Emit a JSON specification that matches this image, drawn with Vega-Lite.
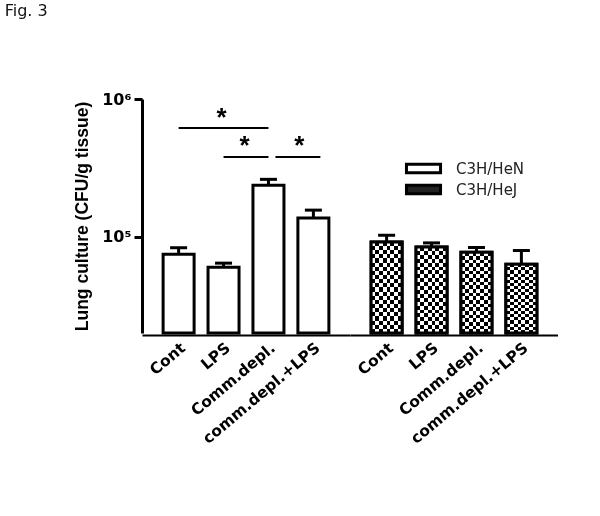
{
  "$schema": "https://vega.github.io/schema/vega-lite/v6.json",
  "padding": {"left": 4, "top": 3, "right": 0, "bottom": 0},
  "background": "white",
  "title": {"text": "Fig. 3", "anchor": "start", "frame": "bounds", "orient": "top", "offset": 72, "dx": -69, "font": "DejaVu Sans", "fontSize": 16, "fontWeight": "normal", "color": "#111"},
  "config": {"view": {"stroke": null}, "axis": {"grid": false}},
  "data": {"values": [
    {"kind": "bar", "strain": "C3H/HeN", "treatment": "Cont", "mean": 74700, "upper": 83200},
    {"kind": "bar", "strain": "C3H/HeN", "treatment": "LPS", "mean": 60100, "upper": 64300},
    {"kind": "bar", "strain": "C3H/HeN", "treatment": "Comm.depl.", "mean": 236000, "upper": 261000},
    {"kind": "bar", "strain": "C3H/HeN", "treatment": "comm.depl.+LPS", "mean": 137000, "upper": 156000},
    {"kind": "bar", "strain": "C3H/HeJ", "treatment": "Cont", "mean": 91700, "upper": 102500},
    {"kind": "bar", "strain": "C3H/HeJ", "treatment": "LPS", "mean": 84300, "upper": 90200},
    {"kind": "bar", "strain": "C3H/HeJ", "treatment": "Comm.depl.", "mean": 77200, "upper": 83500},
    {"kind": "bar", "strain": "C3H/HeJ", "treatment": "comm.depl.+LPS", "mean": 63200, "upper": 79400},
    {"kind": "sig", "id": 1, "strain": "C3H/HeN", "from": "Cont", "to": "Comm.depl.", "level": 617000, "star": "*", "starAt": "LPS"},
    {"kind": "sig", "id": 2, "strain": "C3H/HeN", "from": "LPS", "to": "Comm.depl.", "level": 380000, "star": "*", "starAt": "LPS"},
    {"kind": "sig", "id": 3, "strain": "C3H/HeN", "from": "Comm.depl.", "to": "comm.depl.+LPS", "level": 380000, "star": "*", "starAt": "comm.depl.+LPS"}
  ]},
  "facet": {"column": {"field": "strain", "type": "nominal", "sort": ["C3H/HeN", "C3H/HeJ"], "header": {"labels": false, "title": null}}},
  "spacing": 0,
  "spec": {
    "width": 208,
    "height": 234,
    "encoding": {
      "x": {"field": "treatment", "type": "nominal", "sort": ["Cont", "LPS", "Comm.depl.", "comm.depl.+LPS"],
            "scale": {"domain": ["Cont", "LPS", "Comm.depl.", "comm.depl.+LPS"], "paddingInner": 0.31, "paddingOuter": 0.47},
            "axis": {"title": null, "ticks": false, "domainColor": "black", "domainWidth": 2, "labelAngle": -40, "labelFont": "DejaVu Sans", "labelFontWeight": "bold", "labelFontSize": 15.5, "labelColor": "black", "labelPadding": 5}}
    },
    "layer": [
      {
        "transform": [{"filter": "datum.kind == 'bar'"}],
        "mark": {"type": "bar", "stroke": "black", "strokeWidth": 3},
        "encoding": {
          "y": {"field": "mean", "type": "quantitative",
                "scale": {"type": "log", "domain": [20000, 1000000], "nice": false},
                "axis": {"values": [100000, 1000000], "labelExpr": "datum.value >= 1000000 ? '10⁶' : '10⁵'", "title": "Lung culture (CFU/g tissue)", "titleFont": "Liberation Sans", "titleFontSize": 17.5, "titleFontWeight": "bold", "titleColor": "black", "titlePadding": 10, "labelFont": "DejaVu Sans", "labelFontWeight": "bold", "labelFontSize": 16, "labelColor": "black", "labelPadding": 3, "tickSize": 8, "tickWidth": 3, "tickColor": "black", "domainColor": "black", "domainWidth": 3}},
          "y2": {"datum": 20000},
          "fill": {"field": "strain", "type": "nominal", "scale": {"domain": ["C3H/HeN", "C3H/HeJ"], "range": ["white", "#222222"]},
                   "legend": {"title": null, "orient": "none", "legendX": 272, "legendY": 60, "padding": 0, "symbolType": "M-2.2,-0.55H2.2V0.55H-2.2Z", "symbolSize": 240, "symbolStrokeWidth": 3, "symbolStrokeColor": "black", "labelFont": "DejaVu Sans", "labelFontSize": 15, "labelColor": "#222", "labelOffset": 23, "rowPadding": 0}}
        }
      },
      {
        "transform": [{"filter": "datum.kind == 'bar' && datum.strain == 'C3H/HeJ'"}],
        "mark": {"type": "bar", "fill": {"gradient": "linear", "x1": 0, "y1": 0, "x2": 0, "y2": 1, "stops": [
          {"offset": 0, "color": "black"}, {"offset": 0.0455, "color": "black"},
          {"offset": 0.0455, "color": "white"}, {"offset": 0.0909, "color": "white"},
          {"offset": 0.0909, "color": "black"}, {"offset": 0.1364, "color": "black"},
          {"offset": 0.1364, "color": "white"}, {"offset": 0.1818, "color": "white"},
          {"offset": 0.1818, "color": "black"}, {"offset": 0.2273, "color": "black"},
          {"offset": 0.2273, "color": "white"}, {"offset": 0.2727, "color": "white"},
          {"offset": 0.2727, "color": "black"}, {"offset": 0.3182, "color": "black"},
          {"offset": 0.3182, "color": "white"}, {"offset": 0.3636, "color": "white"},
          {"offset": 0.3636, "color": "black"}, {"offset": 0.4091, "color": "black"},
          {"offset": 0.4091, "color": "white"}, {"offset": 0.4545, "color": "white"},
          {"offset": 0.4545, "color": "black"}, {"offset": 0.5, "color": "black"},
          {"offset": 0.5, "color": "white"}, {"offset": 0.5455, "color": "white"},
          {"offset": 0.5455, "color": "black"}, {"offset": 0.5909, "color": "black"},
          {"offset": 0.5909, "color": "white"}, {"offset": 0.6364, "color": "white"},
          {"offset": 0.6364, "color": "black"}, {"offset": 0.6818, "color": "black"},
          {"offset": 0.6818, "color": "white"}, {"offset": 0.7273, "color": "white"},
          {"offset": 0.7273, "color": "black"}, {"offset": 0.7727, "color": "black"},
          {"offset": 0.7727, "color": "white"}, {"offset": 0.8182, "color": "white"},
          {"offset": 0.8182, "color": "black"}, {"offset": 0.8636, "color": "black"},
          {"offset": 0.8636, "color": "white"}, {"offset": 0.9091, "color": "white"},
          {"offset": 0.9091, "color": "black"}, {"offset": 0.9545, "color": "black"},
          {"offset": 0.9545, "color": "white"}, {"offset": 1, "color": "white"}
        ]}},
        "encoding": {"y": {"field": "mean", "type": "quantitative"}, "y2": {"datum": 20000}}
      },
      {
        "transform": [{"filter": "datum.kind == 'bar' && datum.strain == 'C3H/HeJ'"}],
        "mark": {"type": "bar", "blend": "difference", "fill": {"gradient": "linear", "x1": 0, "y1": 0, "x2": 1, "y2": 0, "stops": [
          {"offset": 0, "color": "white"}, {"offset": 0.125, "color": "white"},
          {"offset": 0.125, "color": "black"}, {"offset": 0.25, "color": "black"},
          {"offset": 0.25, "color": "white"}, {"offset": 0.375, "color": "white"},
          {"offset": 0.375, "color": "black"}, {"offset": 0.5, "color": "black"},
          {"offset": 0.5, "color": "white"}, {"offset": 0.625, "color": "white"},
          {"offset": 0.625, "color": "black"}, {"offset": 0.75, "color": "black"},
          {"offset": 0.75, "color": "white"}, {"offset": 0.875, "color": "white"},
          {"offset": 0.875, "color": "black"}, {"offset": 1, "color": "black"}
        ]}},
        "encoding": {"y": {"field": "mean", "type": "quantitative"}, "y2": {"datum": 20000}}
      },
      {
        "transform": [{"filter": "datum.kind == 'bar' && datum.strain == 'C3H/HeJ'"}],
        "mark": {"type": "bar", "fillOpacity": 0, "stroke": "black", "strokeWidth": 3},
        "encoding": {"y": {"field": "mean", "type": "quantitative"}, "y2": {"datum": 20000}}
      },
      {
        "transform": [{"filter": "datum.kind == 'bar'"}],
        "mark": {"type": "rule", "color": "black", "strokeWidth": 3},
        "encoding": {"y": {"field": "mean", "type": "quantitative"}, "y2": {"field": "upper"}}
      },
      {
        "transform": [{"filter": "datum.kind == 'bar'"}],
        "mark": {"type": "tick", "color": "black", "size": 17, "thickness": 3, "orient": "horizontal", "opacity": 1},
        "encoding": {"y": {"field": "upper", "type": "quantitative"}}
      },
      {
        "transform": [{"filter": "datum.kind == 'sig' && datum.id != 3"}],
        "mark": {"type": "rule", "color": "black", "strokeWidth": 2},
        "encoding": {"x": {"field": "from", "type": "nominal"}, "x2": {"field": "to"}, "y": {"field": "level", "type": "quantitative"}}
      },
      {
        "transform": [{"filter": "datum.kind == 'sig' && datum.id == 3"}],
        "mark": {"type": "rule", "color": "black", "strokeWidth": 2, "xOffset": 7, "x2Offset": 7},
        "encoding": {"x": {"field": "from", "type": "nominal"}, "x2": {"field": "to"}, "y": {"field": "level", "type": "quantitative"}}
      },
      {
        "transform": [{"filter": "datum.kind == 'sig' && datum.id == 1"}],
        "mark": {"type": "text", "font": "Liberation Sans", "fontWeight": "bold", "fontSize": 26, "align": "center", "baseline": "alphabetic", "dx": -2, "dy": -2, "color": "black"},
        "encoding": {"x": {"field": "starAt", "type": "nominal"}, "y": {"field": "level", "type": "quantitative"}, "text": {"field": "star"}}
      },
      {
        "transform": [{"filter": "datum.kind == 'sig' && datum.id == 2"}],
        "mark": {"type": "text", "font": "Liberation Sans", "fontWeight": "bold", "fontSize": 26, "align": "center", "baseline": "alphabetic", "dx": 21, "dy": -3, "color": "black"},
        "encoding": {"x": {"field": "starAt", "type": "nominal"}, "y": {"field": "level", "type": "quantitative"}, "text": {"field": "star"}}
      },
      {
        "transform": [{"filter": "datum.kind == 'sig' && datum.id == 3"}],
        "mark": {"type": "text", "font": "Liberation Sans", "fontWeight": "bold", "fontSize": 26, "align": "center", "baseline": "alphabetic", "dx": -14, "dy": -3, "color": "black"},
        "encoding": {"x": {"field": "starAt", "type": "nominal"}, "y": {"field": "level", "type": "quantitative"}, "text": {"field": "star"}}
      }
    ]
  }
}
